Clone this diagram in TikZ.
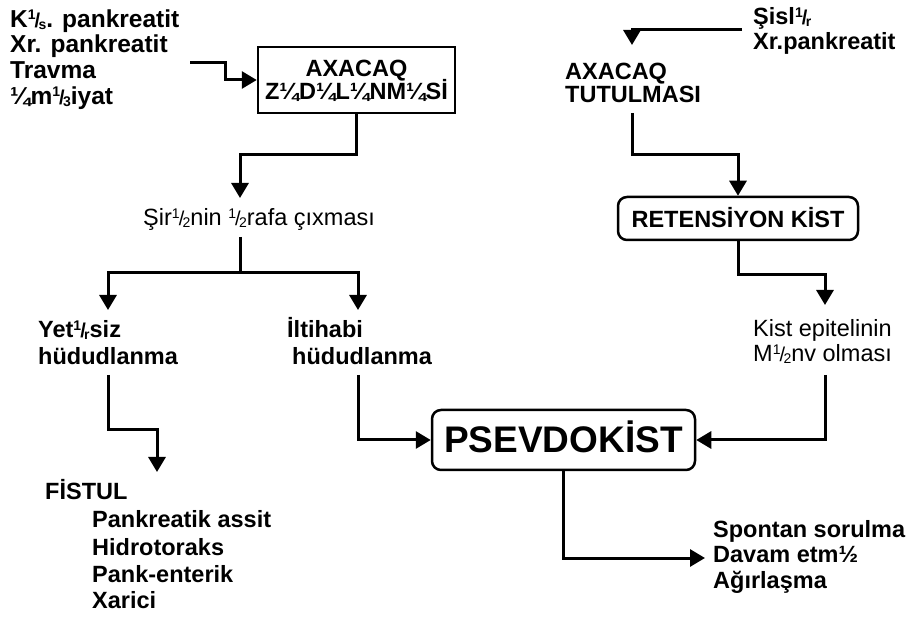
\documentclass[tikz,border=0pt]{standalone}
\usepackage{fontspec}
\setmainfont{Liberation Sans}
\usetikzlibrary{arrows.meta}
\newcommand\fr[1]{\raisebox{.34em}{\fontsize{14}{14}\selectfont 1}\kern-.04em\raisebox{.02em}{\fontsize{20}{20}\selectfont /}\kern-.07em\raisebox{-.05em}{\fontsize{14}{14}\selectfont #1}}
\tikzset{
  bt/.style={anchor=base west, inner sep=0pt, font=\fontsize{23.5}{26}\selectfont\bfseries},
  btl/.style={anchor=base west, inner sep=0pt, font=\fontsize{24.5}{26}\selectfont\bfseries},
  rt/.style={anchor=base west, inner sep=0pt, font=\fontsize{23.5}{26}\selectfont},
  sqbox/.style={draw, line width=2.5pt, inner sep=0pt},
  rbox/.style={draw, line width=2.5pt, rounded corners=9pt, inner sep=0pt},
  arr/.style={line width=3pt, -{Triangle[length=15pt,width=17pt]}},
  ln/.style={line width=3pt}
}
\begin{document}
\begin{tikzpicture}[x=1pt,y=-1pt]
\useasboundingbox (0,0) rectangle (916,617);
% left top list
\node[btl] (k1) at (10,28) {K\fr{s}. pankreatit};
\node[btl] (k2) at (10,53) {Xr. pankreatit};
\node[btl] (k3) at (10,79) {Travma};
\node[btl] (k4) at (10,105) {¼m\fr{3}iyat};
% AXACAQ ZEDELENMESI box
\node[sqbox, minimum width=197pt, minimum height=66pt] (zbox) at (356.5,80) {};
\node[bt, anchor=base] (z1) at (356.5,77) {AXACAQ};
\node[bt, anchor=base] (z2) at (356.5,100) {Z¼D¼L¼NM¼Sİ};
\coordinate (c1) at (190,63);
\draw[arr] (c1) -- (225,63) |- (zbox.west);
% sire
\node[rt] (sir) at (143,226) {Şir\fr{2}nin \fr{2}rafa çıxması};
\coordinate (sirtop) at (240,198);
\draw[arr] (zbox.south) -- (356.5,155) -| (sirtop);
\coordinate (sirbot) at (240,237);
\coordinate (split) at (240,273);
\coordinate (yettop) at (108,310);
\coordinate (ilttop) at (358,310);
\draw[ln] (sirbot) -- (split);
\draw[arr] (split) -| (yettop);
\draw[arr] (split) -| (ilttop);
% Yet..siz / Iltihabi
\node[bt] (y1) at (38,338) {Yet\fr{r}siz};
\node[bt] (y2) at (38,365) {hüdudlanma};
\node[bt] (i1) at (287,338) {İltihabi};
\node[bt] (i2) at (292,365) {hüdudlanma};
% PSEVDOKIST
\node[rbox, minimum width=263pt, minimum height=60pt] (psv) at (563.5,440) {};
\node[anchor=base, inner sep=0pt, font=\fontsize{37}{40}\selectfont\bfseries] (pst) at (563.5,453) {PSEVDOKİST};
% Fistul
\coordinate (ybot) at (108,375);
\coordinate (fistop) at (157,472);
\draw[arr] (ybot) -- (108,430) -| (fistop);
\node[bt] (f0) at (45,500) {FİSTUL};
\node[bt] (f1) at (92,527) {Pankreatik assit};
\node[bt] (f2) at (92,555) {Hidrotoraks};
\node[bt] (f3) at (92,582) {Pank-enterik};
\node[bt] (f4) at (92,608) {Xarici};
\coordinate (ibot) at (358,375);
\draw[arr] (ibot) |- (psv.west);
% right top
\node[bt] (s1) at (753,25) {Şisl\fr{r}};
\node[bt] (s2) at (753,50) {Xr.pankreatit};
\coordinate (c2) at (742,30);
\coordinate (atop) at (632,45);
\draw[arr] (c2) -| (atop);
\node[bt] (a1) at (565,80) {AXACAQ};
\node[bt] (a2) at (565,103) {TUTULMASI};
% retension
\node[rbox, minimum width=240pt, minimum height=43pt] (ret) at (738,218.5) {};
\node[bt, anchor=base] (rett) at (738,228) {RETENSİYON KİST};
\coordinate (abot) at (632,113);
\draw[arr] (abot) -- (632,155) -| (ret.north);
\coordinate (kepi) at (825,305);
\draw[arr] (ret.south) -- (738,275) -| (kepi);
\node[rt] (e1) at (753,337) {Kist epitelinin};
\node[rt] (e2) at (753,362) {M\fr{2}nv olması};
\coordinate (ebot) at (825,375);
\draw[arr] (ebot) |- (psv.east);
% outcomes
\coordinate (otip) at (705,558);
\draw[arr] (psv.south) |- (otip);
\node[bt] (o1) at (713,537) {Spontan sorulma};
\node[bt] (o2) at (713,562) {Davam etm½};
\node[bt] (o3) at (713,588) {Ağırlaşma};
\end{tikzpicture}
\end{document}
